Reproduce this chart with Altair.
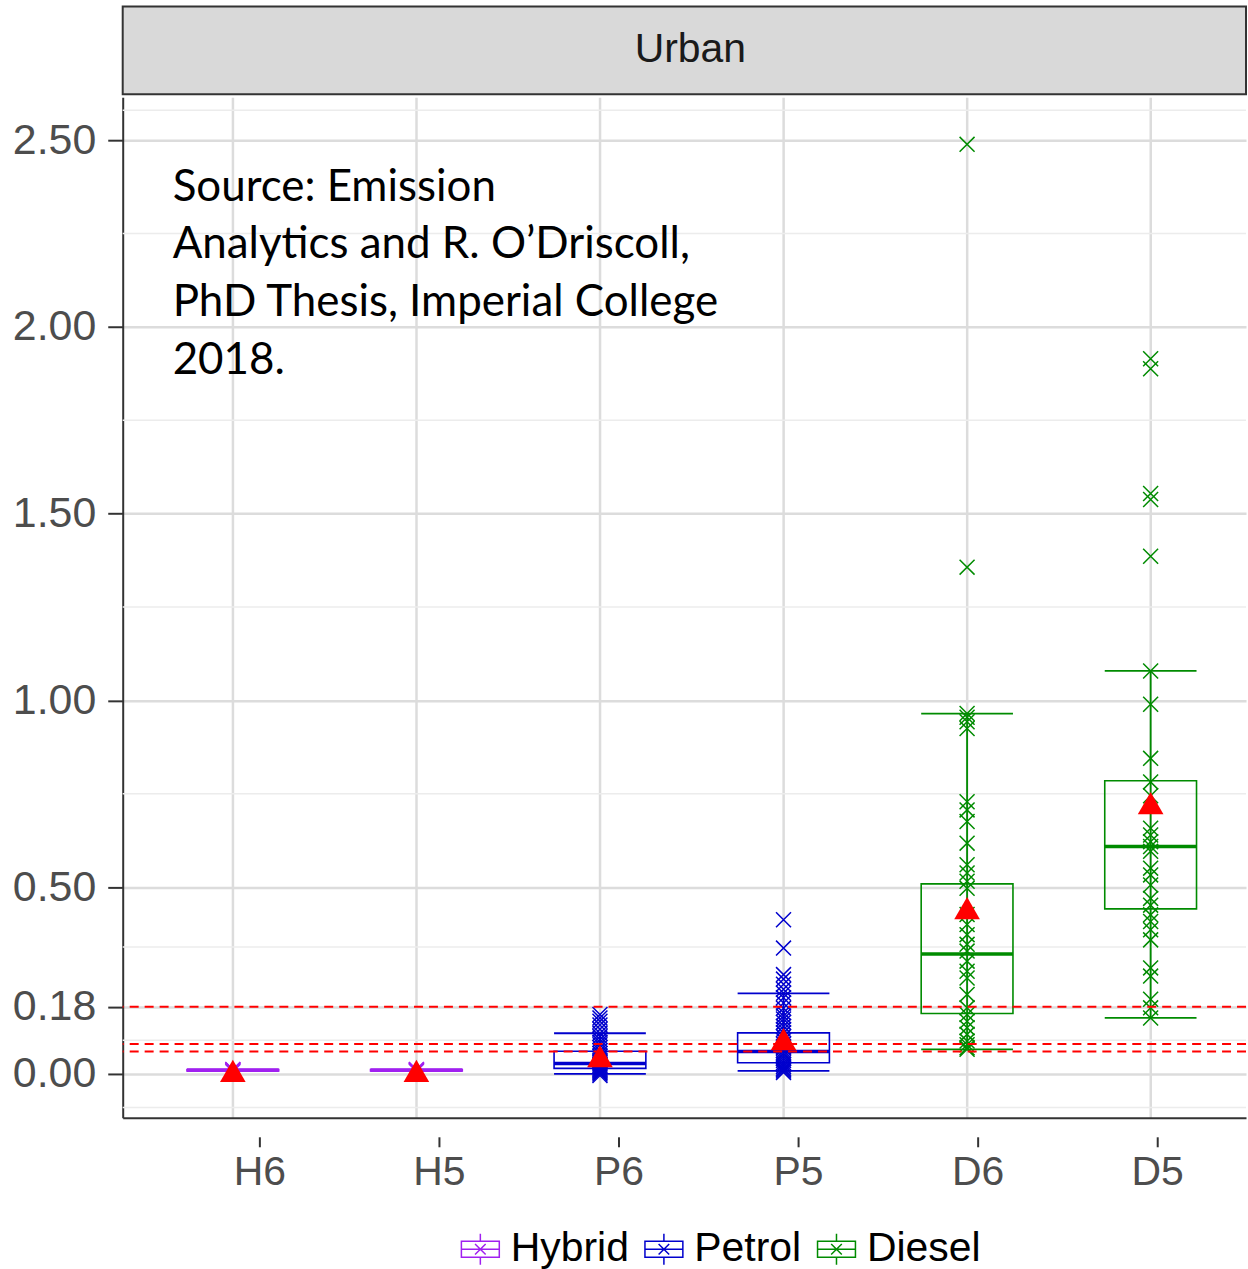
import altair as alt
import pandas as pd

# ---------------- data ----------------
categories = ["H6", "H5", "P6", "P5", "D6", "D5"]
fuel = ["Hybrid", "Hybrid", "Petrol", "Petrol", "Diesel", "Diesel"]
fuel_order = ["Hybrid", "Petrol", "Diesel"]
fuel_colors = ["#a020f0", "#0000cd", "#008b00"]

q1 = [0.008, 0.008, 0.015, 0.030, 0.162, 0.442]
median = [0.010, 0.010, 0.028, 0.060, 0.321, 0.609]
q3 = [0.012, 0.012, 0.061, 0.110, 0.509, 0.785]
whisker_lo = [0.008, 0.008, 0.000, 0.008, 0.066, 0.150]
whisker_hi = [0.012, 0.012, 0.109, 0.216, 0.965, 1.079]
means = [0.008, 0.008, 0.048, 0.093, 0.444, 0.725]

points_H6 = [0.006, 0.008, 0.010, 0.011, 0.012]
points_H5 = [0.007, 0.009, 0.010, 0.011, 0.012]
points_P6 = [0.159, 0.150, 0.141, 0.131, 0.120, 0.109, 0.100, 0.092, 0.085, 0.078,
             0.070, 0.062, 0.055, 0.048, 0.042, 0.036, 0.031, 0.027, 0.023, 0.019,
             0.015, 0.012, 0.009, 0.006, 0.003, 0.000, -0.004]
points_P5 = [0.413, 0.337, 0.266, 0.254, 0.240, 0.227, 0.216, 0.204, 0.190, 0.176,
             0.164, 0.155, 0.147, 0.138, 0.128, 0.119, 0.110, 0.100, 0.090, 0.080,
             0.070, 0.062, 0.055, 0.048, 0.042, 0.036, 0.030, 0.025, 0.020, 0.015,
             0.011, 0.008, 0.004]
points_D6 = [2.489, 1.357, 0.965, 0.955, 0.943, 0.925, 0.729, 0.707, 0.676, 0.618,
             0.560, 0.538, 0.516, 0.497, 0.427, 0.400, 0.373, 0.347, 0.329, 0.302,
             0.275, 0.257, 0.213, 0.177, 0.159, 0.141, 0.124, 0.106, 0.088, 0.078,
             0.070, 0.066]
points_D5 = [1.915, 1.888, 1.554, 1.538, 1.386, 1.079, 0.990, 0.845, 0.782, 0.745,
             0.658, 0.640, 0.622, 0.609, 0.596, 0.551, 0.533, 0.506, 0.470, 0.452,
             0.426, 0.408, 0.386, 0.359, 0.284, 0.262, 0.200, 0.177, 0.150]
all_points = [points_H6, points_H5, points_P6, points_P5, points_D6, points_D5]

limit_lines = [0.18, 0.08, 0.06]
y_ticks = [0.0, 0.18, 0.5, 1.0, 1.5, 2.0, 2.5]
y_minor = [-0.09, 0.09, 0.34, 0.75, 1.25, 1.75, 2.25, 2.58]
strip_label = "Urban"
source_note = "Source: Emission\nAnalytics and R. O\u2019Driscoll,\nPhD Thesis, Imperial College\n2018."
note_x, note_y = 0.672, 2.432

# ---------------- tables ----------------
pos = list(range(1, len(categories) + 1))
box_df = pd.DataFrame({
    "cat": categories, "fuel": fuel, "pos": pos,
    "q1": q1, "median": median, "q3": q3,
    "lo": whisker_lo, "hi": whisker_hi, "mean": means,
})
box_df["xl"] = box_df["pos"] - 0.25
box_df["xr"] = box_df["pos"] + 0.25

pt_rows = []
for c, f, p, vals in zip(categories, fuel, pos, all_points):
    for v in vals:
        pt_rows.append({"cat": c, "fuel": f, "pos": p, "v": v})
pts_df = pd.DataFrame(pt_rows)

minor_df = pd.DataFrame({"v": y_minor})
limit_df = pd.DataFrame({"v": limit_lines})
cat_df = pd.DataFrame({"pos": pos, "cat": categories})
note_df = pd.DataFrame({"t": [source_note], "x": [note_x], "y": [note_y]})

# ---------------- scales / axes ----------------
W, H = 1126, 1023
FONT = "Liberation Sans"
yscale = alt.Scale(domain=[-0.1175, 2.615], nice=False, zero=False)
xscale = alt.Scale(domain=[0.4, 0.4 + W / 184.0], nice=False, zero=False)
yaxis = alt.Axis(values=y_ticks, format=".2f", title=None, labelFont=FONT,
                 labelFontSize=43, labelColor="#4d4d4d", labelPadding=12,
                 tickSize=15, tickColor="#333333", tickWidth=2,
                 domainColor="#333333", domainWidth=2, grid=True,
                 gridColor="#dcdcdc", gridWidth=2.5,
                 minExtent=117, maxExtent=117)
xaxis = alt.Axis(values=pos, title=None, labels=False, ticks=False, grid=True,
                 gridColor="#dcdcdc", gridWidth=2.5, domain=True,
                 domainColor="#333333", domainWidth=2)

boxglyph = ("M-1,-0.42H1V0.42H-1Z M0,-0.82V-0.42 M0,0.42V0.82 M-1,0H1 "
            "M-0.28,-0.28L0.28,0.28 M-0.28,0.28L0.28,-0.28")
legend = alt.Legend(orient="none", legendX=338, legendY=1225, direction="horizontal",
                    title=None, symbolType=boxglyph, symbolSize=1444,
                    symbolStrokeWidth=1.5, symbolFillColor="transparent",
                    labelFont=FONT, labelFontSize=41, labelColor="black",
                    labelOffset=10, columnPadding=12, padding=0)
cscale = alt.Scale(domain=fuel_order, range=fuel_colors)
color = alt.Color("fuel:N", scale=cscale, legend=legend)


def X(field):
    return alt.X(field, scale=xscale, axis=xaxis)


def Y(field):
    return alt.Y(field, scale=yscale, axis=yaxis)


minor = alt.Chart(minor_df).mark_rule(color="#ececec", strokeWidth=1.5).encode(
    y=Y("v:Q"))

box = alt.Chart(box_df).mark_rect(filled=False, strokeWidth=1.6).encode(
    x=X("xl:Q"), x2="xr:Q", y=Y("q1:Q"), y2="q3:Q", stroke=color)
whisk = alt.Chart(box_df).mark_rule(strokeWidth=1.8).encode(
    x=X("pos:Q"), y=Y("lo:Q"), y2="hi:Q", color=color)
cap_lo = alt.Chart(box_df).mark_rule(strokeWidth=1.8).encode(
    x=X("xl:Q"), x2="xr:Q", y=Y("lo:Q"), color=color)
cap_hi = alt.Chart(box_df).mark_rule(strokeWidth=1.8).encode(
    x=X("xl:Q"), x2="xr:Q", y=Y("hi:Q"), color=color)
med = alt.Chart(box_df).mark_rule(strokeWidth=3.6).encode(
    x=X("xl:Q"), x2="xr:Q", y=Y("median:Q"), color=color)

xpath = "M-1,-1L1,1M-1,1L1,-1"
pts = alt.Chart(pts_df).mark_point(shape=xpath, filled=False, size=225,
                                   strokeWidth=1.5, opacity=1).encode(
    x=X("pos:Q"), y=Y("v:Q"), color=color)

limits = alt.Chart(limit_df).mark_rule(color="#ff0000", strokeWidth=2,
                                       strokeDash=[9, 6]).encode(y=Y("v:Q"))

mean_pts = alt.Chart(box_df).mark_point(shape="triangle-up", filled=True,
                                        color="#ff0000", size=660, opacity=1).encode(
    x=X("pos:Q"), y=Y("mean:Q"))

note = alt.Chart(note_df).mark_text(
    align="left", baseline="top", font="Lato", fontSize=44, lineHeight=58,
    lineBreak="\n", color="black").encode(
    x=X("x:Q"), y=Y("y:Q"), text="t:N")

inner = alt.layer(minor, box, whisk, cap_lo, cap_hi, med, pts, limits, mean_pts, note)

label_expr = "[" + ",".join("'%s'" % c for c in categories) + "][datum.value - 1]"
xlab = alt.Chart(cat_df).mark_point(opacity=0).encode(
    x=alt.X("pos:Q", scale=alt.Scale(domain=[0.2389, 6.4944], nice=False, zero=False),
            axis=alt.Axis(orient="bottom", values=pos, labelExpr=label_expr,
                          offset=19, domain=False, grid=False, tickSize=10,
                          tickColor="#333333", tickWidth=2, labelFont=FONT,
                          labelFontSize=41, labelColor="#4d4d4d", labelPadding=6,
                          title=None)),
    y=alt.value(0))

main = alt.layer(inner, xlab).resolve_scale(x="independent").properties(
    width=W, height=H, view=alt.ViewBackground(stroke="transparent"))

strip = alt.Chart(pd.DataFrame({"label": [strip_label]})).mark_text(
    font=FONT, fontSize=41, color="#1a1a1a").encode(
    text="label:N", x=alt.value(W / 2 + 6), y=alt.value(44)).properties(
    width=W, height=88,
    view=alt.ViewBackground(fill="#d9d9d9", stroke="#333333", strokeWidth=2))

chart = alt.vconcat(strip, main, spacing=-2).properties(
    padding={"left": 5, "top": 4, "right": 0, "bottom": 0},
    background="white").configure_view(stroke="transparent")

chart.save("out.html", embed_options={"renderer": "svg", "actions": False})
